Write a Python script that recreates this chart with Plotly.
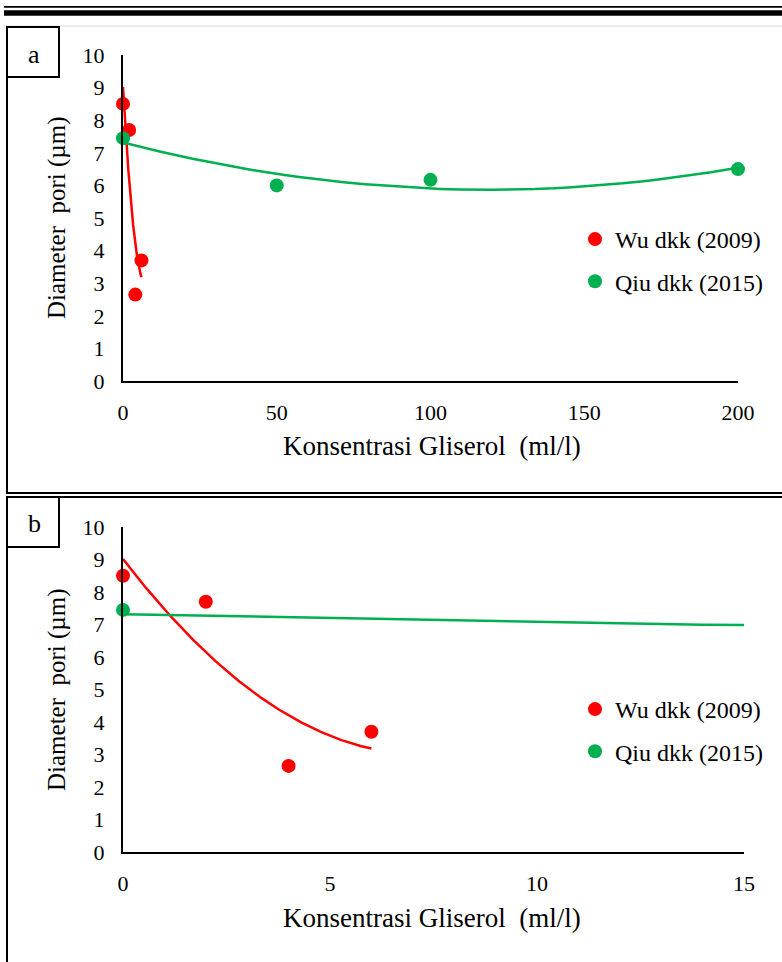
import numpy as np
import plotly.graph_objects as go

# ---- data ----
wu_x = [0, 2, 4, 6]
wu_y = [8.5, 7.7, 2.65, 3.7]
qiu_x = [0, 50, 100, 200]
qiu_y = [7.45, 6.0, 6.17, 6.5]

xticks_a = [0, 50, 100, 150, 200]
xticks_b = [0, 5, 10, 15]
yticks = [0, 1, 2, 3, 4, 5, 6, 7, 8, 9, 10]

wu_name = "Wu dkk (2009)"
qiu_name = "Qiu dkk (2015)"
x_title = "Konsentrasi Gliserol\u00a0 (ml/l)"
y_title = "Diameter\u00a0 pori (µm)"

RED = "#FF0000"
GREEN = "#00B050"
FONT = "Liberation Serif, Times New Roman, serif"
W, H = 782, 962


def px(x):
    return x / W


def py(y):
    return 1 - y / H


# polynomial (order 2) trendlines, as in the original spreadsheet chart
wu_fit = np.poly1d(np.polyfit(wu_x, wu_y, 2))
qiu_fit = np.poly1d(np.polyfit(qiu_x, qiu_y, 2))
wu_tx = np.linspace(min(wu_x), max(wu_x), 300)
qiu_tx = np.linspace(min(qiu_x), max(qiu_x), 4001)

fig = go.Figure()

panels = [
    dict(xa="x", ya="y", legend="legend"),
    dict(xa="x2", ya="y2", legend="legend2"),
]
for p in panels:
    fig.add_trace(go.Scatter(x=wu_tx, y=wu_fit(wu_tx), mode="lines",
                             line=dict(color=RED, width=2.5), showlegend=False,
                             xaxis=p["xa"], yaxis=p["ya"], hoverinfo="skip"))
    fig.add_trace(go.Scatter(x=qiu_tx, y=qiu_fit(qiu_tx), mode="lines",
                             line=dict(color=GREEN, width=2.5), showlegend=False,
                             xaxis=p["xa"], yaxis=p["ya"], hoverinfo="skip"))
    fig.add_trace(go.Scatter(x=wu_x, y=wu_y, mode="markers", name=wu_name,
                             marker=dict(color=RED, size=14), cliponaxis=False,
                             legendgroup="wu" + p["legend"], legend=p["legend"],
                             xaxis=p["xa"], yaxis=p["ya"]))
    fig.add_trace(go.Scatter(x=qiu_x, y=qiu_y, mode="markers", name=qiu_name,
                             marker=dict(color=GREEN, size=14), cliponaxis=False,
                             legendgroup="qiu" + p["legend"], legend=p["legend"],
                             xaxis=p["xa"], yaxis=p["ya"]))

tickfont = dict(family=FONT, size=22, color="black")
axis_common = dict(showgrid=False, zeroline=False, showline=True, linecolor="black",
                   linewidth=2, ticks="outside", tickcolor="rgba(0,0,0,0)",
                   tickfont=tickfont, fixedrange=True, automargin=False)

legend_font = dict(family=FONT, size=24, color="black")
fig.update_layout(
    width=W, height=H, autosize=False,
    margin=dict(l=0, r=0, t=0, b=0, pad=0, autoexpand=False),
    paper_bgcolor="white", plot_bgcolor="white",
    font=dict(family=FONT, color="black"),
    xaxis=dict(domain=[px(123), px(738)], range=[0, 200], tickvals=xticks_a,
               ticklen=11, anchor="y", **axis_common),
    yaxis=dict(domain=[py(381), py(55)], range=[0, 10], tickvals=yticks,
               ticklen=12, anchor="x", **axis_common),
    xaxis2=dict(domain=[px(123), px(744)], range=[0, 15], tickvals=xticks_b,
                ticklen=11, anchor="y2", **axis_common),
    yaxis2=dict(domain=[py(852), py(527)], range=[0, 10], tickvals=yticks,
                ticklen=12, anchor="x2", **axis_common),
    legend=dict(x=px(575), y=py(217), xanchor="left", yanchor="top",
                font=legend_font, bgcolor="rgba(0,0,0,0)",
                tracegroupgap=8, itemwidth=30),
    legend2=dict(x=px(575), y=py(687), xanchor="left", yanchor="top",
                 font=legend_font, bgcolor="rgba(0,0,0,0)",
                 tracegroupgap=8, itemwidth=30),
    showlegend=True,
)

# axis titles and panel labels
ann = []
for xc, yc in [(432, 446), (432, 918)]:
    ann.append(dict(x=px(xc), y=py(yc), xref="paper", yref="paper", text=x_title,
                    showarrow=False, xanchor="center", yanchor="middle",
                    font=dict(family=FONT, size=27, color="black")))
for xc, yc in [(57, 218), (57, 690)]:
    ann.append(dict(x=px(xc), y=py(yc), xref="paper", yref="paper", text=y_title,
                    showarrow=False, xanchor="center", yanchor="middle", textangle=-90,
                    font=dict(family=FONT, size=25, color="black")))
for lab, yc in [("a", 54), ("b", 523)]:
    ann.append(dict(x=px(34), y=py(yc), xref="paper", yref="paper", text=lab,
                    showarrow=False, xanchor="center", yanchor="middle",
                    font=dict(family=FONT, size=26, color="black")))
fig.update_layout(annotations=ann)

# frame lines and boxes
shapes = []


def hline(y, x0, x1, w, c="black"):
    shapes.append(dict(type="line", xref="paper", yref="paper", x0=px(x0), x1=px(x1),
                       y0=py(y), y1=py(y), line=dict(color=c, width=w)))


def vline(x, y0, y1, w, c="black"):
    shapes.append(dict(type="line", xref="paper", yref="paper", x0=px(x), x1=px(x),
                       y0=py(y0), y1=py(y1), line=dict(color=c, width=w)))


hline(6.8, 4, W, 1.8)
hline(13, 4, W, 5.5)
hline(26, 4, W, 1.5, "#e4e4e4")
vline(7, 26, 494, 2)
hline(493, 7, W, 2)
hline(497, 7, W, 2)
vline(7, 496, H, 2)
for y0, y1 in [(27, 77), (497, 547)]:
    shapes.append(dict(type="rect", xref="paper", yref="paper", x0=px(7), x1=px(59),
                       y0=py(y1), y1=py(y0), line=dict(color="black", width=2)))
fig.update_layout(shapes=shapes)

post = ("document.documentElement.style.margin='0';"
        "document.documentElement.style.padding='0';"
        "document.documentElement.style.overflow='hidden';"
        "document.body.style.margin='0';"
        "document.body.style.padding='0';"
        "document.body.style.overflow='hidden';")
fig.write_html("out.html", config={"displayModeBar": False}, post_script=post)
